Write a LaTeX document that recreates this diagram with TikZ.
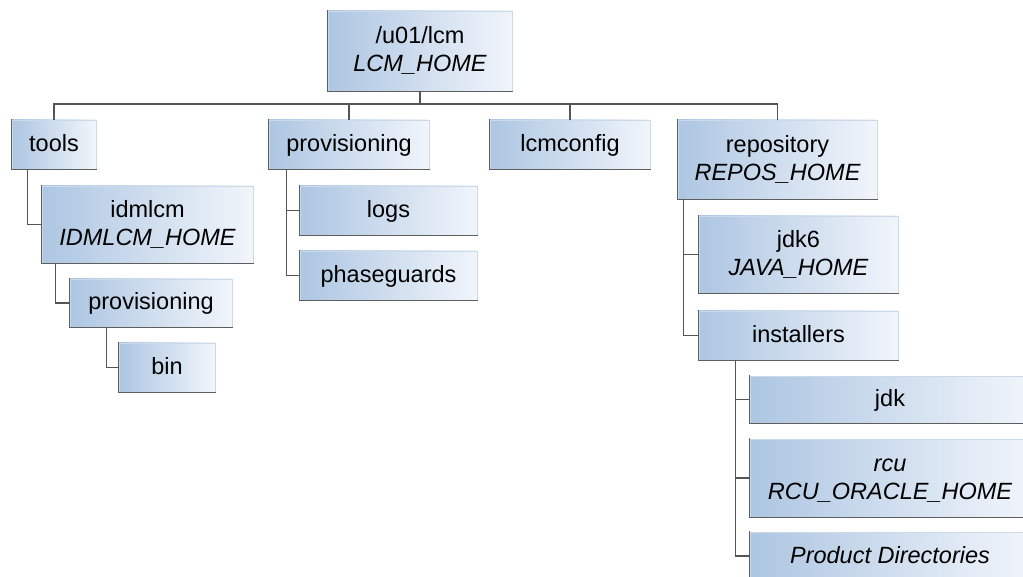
\documentclass[tikz,border=0pt]{standalone}
\usepackage{fontspec}
\setmainfont{Liberation Sans}
\definecolor{boxL}{HTML}{ADC6E2}
\definecolor{boxR}{HTML}{F1F5FB}
\definecolor{boxB}{HTML}{CCD9E8}
\definecolor{shad}{HTML}{5E5E5E}
\definecolor{conn}{HTML}{555555}
\newcommand\mystrut{\rule[-5pt]{0pt}{24pt}}
\begin{document}
\begin{tikzpicture}[x=1pt,y=-1pt,
  box/.style={rectangle, draw=boxB, line width=0.8pt, left color=boxL, right color=boxR,
    inner sep=0pt, align=center, font=\fontsize{23.5}{28}\selectfont},
  conn/.style={draw=conn, line width=1.6pt},
  shadowline/.style={draw=shad, line width=1.6pt, line cap=rect}]
\useasboundingbox (0,0) rectangle (1023,577);
\clip (0,0) rectangle (1023,577);
\node[box, minimum width=184pt, minimum height=80pt] (root) at (420,51) {\mystrut/u01/lcm\\\itshape\mystrut LCM\_HOME};
\node[box, minimum width=84pt, minimum height=49pt] (tools) at (54,144.5) {\mystrut tools};
\node[box, minimum width=160pt, minimum height=49pt] (prov) at (349,144.5) {\mystrut provisioning};
\node[box, minimum width=160pt, minimum height=49pt] (lcmconfig) at (570,144.5) {\mystrut lcmconfig};
\node[box, minimum width=199pt, minimum height=79pt] (repo) at (777.5,159.5) {\mystrut repository\\\itshape\mystrut REPOS\_HOME};
\node[box, minimum width=211pt, minimum height=77pt] (idmlcm) at (147.5,224.5) {\mystrut idmlcm\\\itshape\mystrut IDMLCM\_HOME};
\node[box, minimum width=162pt, minimum height=48pt] (prov2) at (151,303) {\mystrut provisioning};
\node[box, minimum width=96pt, minimum height=49pt] (bin) at (167,367.5) {\mystrut bin};
\node[box, minimum width=177pt, minimum height=49pt] (logs) at (388.5,210.5) {\mystrut logs};
\node[box, minimum width=177pt, minimum height=49pt] (phase) at (388.5,275.5) {\mystrut phaseguards};
\node[box, minimum width=199pt, minimum height=77pt] (jdk6) at (798.5,254.5) {\mystrut jdk6\\\itshape\mystrut JAVA\_HOME};
\node[box, minimum width=199pt, minimum height=49pt] (inst) at (798.5,335.5) {\mystrut installers};
\node[box, minimum width=280pt, minimum height=47pt] (jdk) at (890,399.5) {\mystrut jdk};
\node[box, minimum width=280pt, minimum height=78pt] (rcu) at (890,478) {\itshape\mystrut rcu\\\itshape\mystrut RCU\_ORACLE\_HOME};
\node[box, minimum width=280pt, minimum height=48pt] (prod) at (890,556) {\itshape\mystrut Product Directories};
\foreach \n in {root,tools,prov,lcmconfig,repo,idmlcm,prov2,bin,logs,phase,jdk6,inst,jdk,rcu,prod}
  \draw[shadowline] (\n.north west) -- (\n.south west) -- (\n.south east);
% main bus
\coordinate (bus) at (420,104);
\draw[conn] (root.south) -- (bus);
\draw[conn] (tools.north) -- (tools.north |- bus) -- (repo.north |- bus) -- (repo.north);
\draw[conn] (prov.north) -- (prov.north |- bus);
\draw[conn] (lcmconfig.north) -- (lcmconfig.north |- bus);
% sub trees
\draw[conn] ([xshift=16pt]tools.south west) |- (idmlcm.west);
\draw[conn] ([xshift=14pt]idmlcm.south west) |- (prov2.west);
\draw[conn] ([xshift=37pt]prov2.south west) |- (bin.west);
\draw[conn] ([xshift=18pt]prov.south west) |- (phase.west);
\draw[conn] ([xshift=18pt]prov.south west |- logs.west) -- (logs.west);
\draw[conn] ([xshift=6pt]repo.south west) |- (inst.west);
\draw[conn] ([xshift=6pt]repo.south west |- jdk6.west) -- (jdk6.west);
\draw[conn] ([xshift=37pt]inst.south west) |- (prod.west);
\draw[conn] ([xshift=37pt]inst.south west |- jdk.west) -- (jdk.west);
\draw[conn] ([xshift=37pt]inst.south west |- rcu.west) -- (rcu.west);
\end{tikzpicture}
\end{document}
